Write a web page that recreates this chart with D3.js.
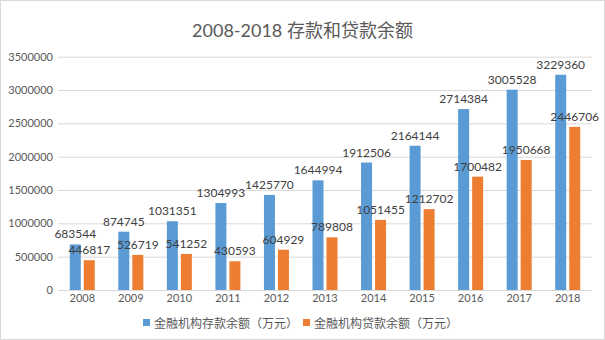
<!DOCTYPE html>
<html><head><meta charset="utf-8">
<script src="https://cdn.jsdelivr.net/npm/d3@7"></script>
<style>body{margin:0;background:#fff}svg{display:block}</style>
</head><body>
<script>
const years = ["2008","2009","2010","2011","2012","2013","2014","2015","2016","2017","2018"];
const deposits = [683544,874745,1031351,1304993,1425770,1644994,1912506,2164144,2714384,3005528,3229360];
const loans = [446817,526719,541252,430593,604929,789808,1051455,1212702,1700482,1950668,2446706];
const yTicks = [0,500000,1000000,1500000,2000000,2500000,3000000,3500000];
const seriesNames = ["金融机构存款余额（万元）","金融机构贷款余额（万元）"];
const colors = ["#5B9BD5","#ED7D31"];
const title = "2008-2018 存款和贷款余额";

(function(){
const W=605,H=340;
const font = "Lato, 'Noto Sans CJK SC', sans-serif";
const svg = d3.select("body").append("svg").attr("width",W).attr("height",H);
svg.append("rect").attr("x",0.5).attr("y",0.5).attr("width",W-1).attr("height",H-1)
  .attr("fill","#fff").attr("stroke","#D9D9D9");

const pL=58,pR=592,pT=56.7,pB=290;
const x = d3.scaleBand().domain(years).range([pL,pR]);
const y = d3.scaleLinear().domain([0,3500000]).range([pB,pT]);
const barW = 11, gap = 3;

svg.append("text").attr("x",W/2).attr("y",37).attr("text-anchor","middle")
  .attr("font-family",font).attr("font-size",18).attr("fill","#595959").text(title);

const yAxis = svg.append("g").attr("transform",`translate(${pL},0)`)
  .call(d3.axisLeft(y).tickValues(yTicks).tickSize(-(pR-pL)).tickFormat(d3.format("d")));
yAxis.select(".domain").remove();
yAxis.selectAll(".tick line").attr("stroke","#D9D9D9");
yAxis.selectAll(".tick text").attr("x",-5).attr("fill","#595959").attr("font-family",font).attr("font-size",11);

const xAxis = svg.append("g").attr("transform",`translate(0,${pB})`)
  .call(d3.axisBottom(x).tickSize(0));
xAxis.select(".domain").remove();
xAxis.selectAll(".tick text").attr("dy","0.71em").attr("y",4).attr("fill","#595959").attr("font-family",font).attr("font-size",11);

[deposits,loans].forEach((vals,si)=>{
  const cx = i => x(years[i]) + x.bandwidth()/2 + (si===0 ? -(gap/2+barW/2) : (gap/2+barW/2));
  svg.append("g").selectAll("rect").data(vals).join("rect")
    .attr("x",(d,i)=>cx(i)-barW/2).attr("width",barW)
    .attr("y",d=>y(d)).attr("height",d=>pB-y(d)).attr("fill",colors[si]);
  svg.append("g").selectAll("text").data(vals).join("text")
    .attr("x",(d,i)=>cx(i)).attr("y",d=>y(d)-6).attr("text-anchor","middle")
    .attr("font-family",font).attr("font-size",12).attr("fill","#404040").text(d=>d);
});

const leg = svg.append("g");
const legX=[143,303];
seriesNames.forEach((n,i)=>{
  leg.append("rect").attr("x",legX[i]).attr("y",319).attr("width",7).attr("height",7).attr("fill",colors[i]);
  leg.append("text").attr("x",legX[i]+11).attr("y",327.5).attr("font-family",font).attr("font-size",12)
    .attr("fill","#595959").text(n);
});
})();
</script>
</body></html>
